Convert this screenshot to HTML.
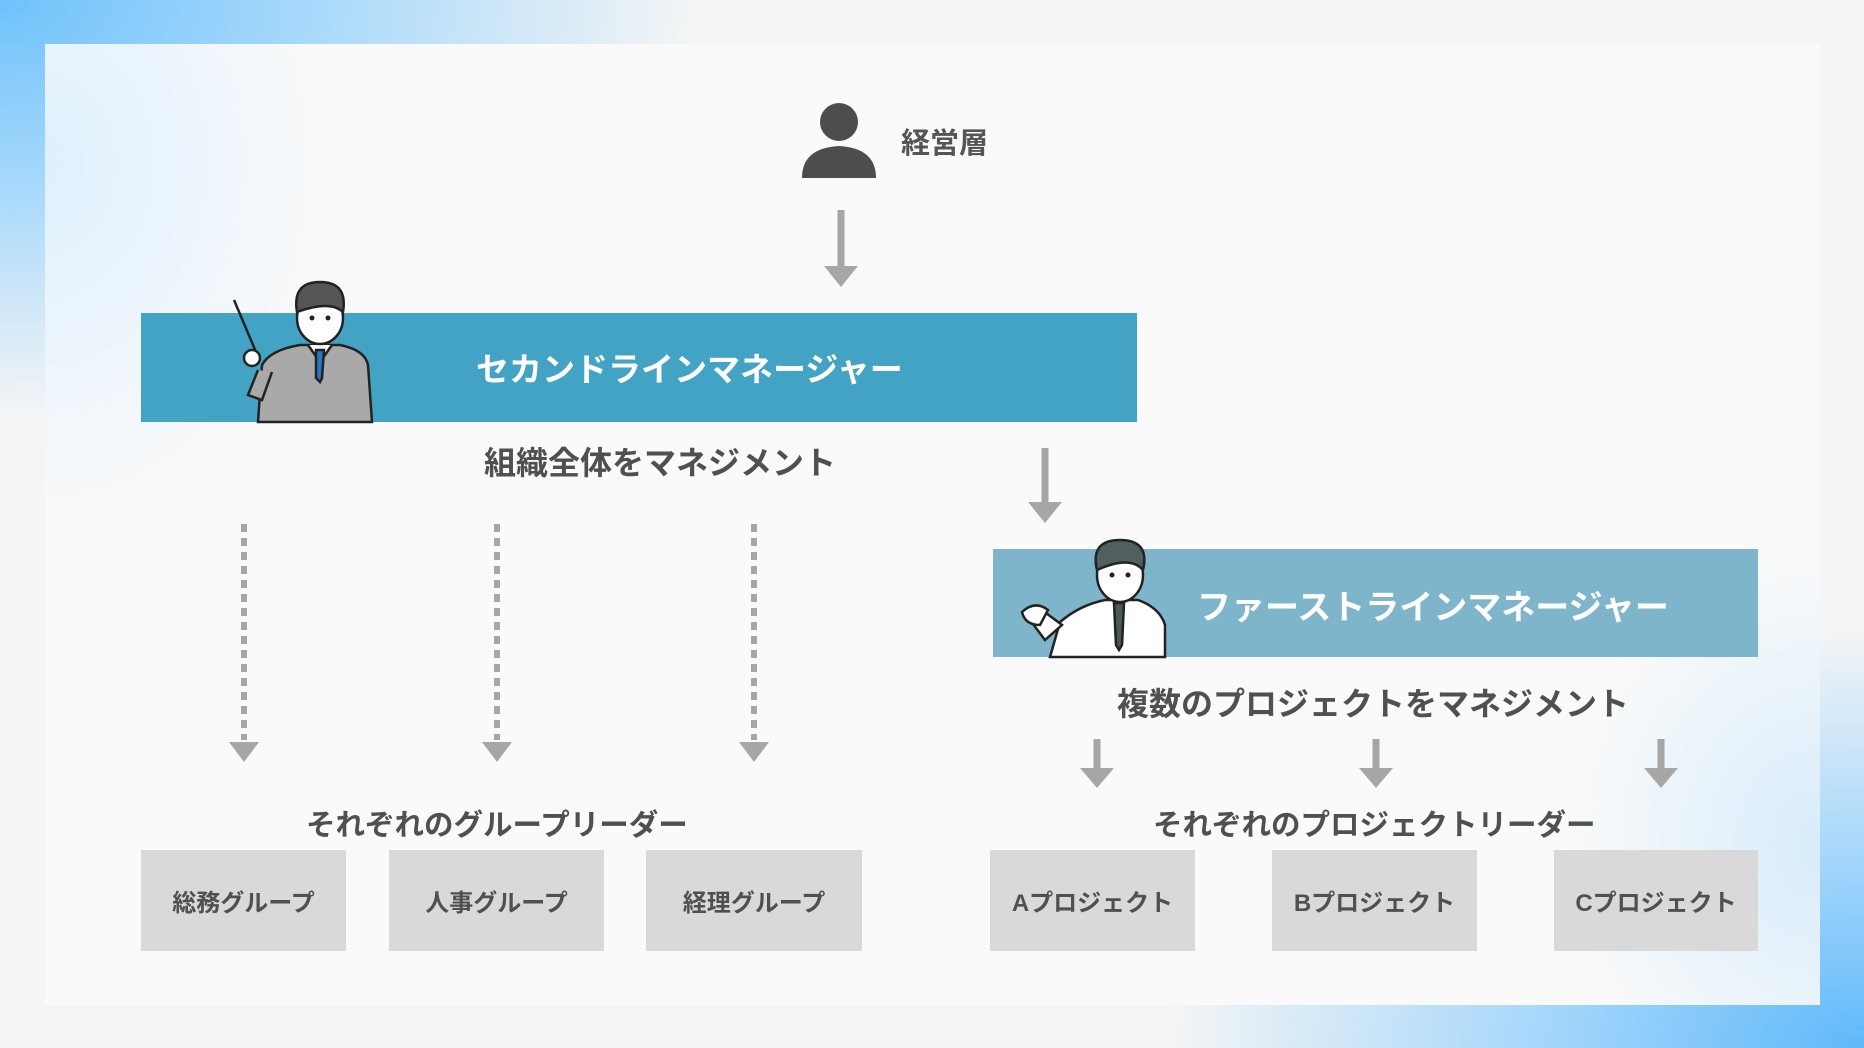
<!DOCTYPE html>
<html><head><meta charset="utf-8"><style>
body{margin:0;width:1864px;height:1048px;overflow:hidden;position:relative;font-family:"Liberation Sans","Noto Sans CJK JP",sans-serif;font-weight:bold;
background:
radial-gradient(ellipse 700px 420px at 0px 0px,#6fc2fb 0%,#a8d9fb 45%,rgba(245,245,245,0) 100%),
radial-gradient(ellipse 700px 420px at 1864px 1048px,#5fb9fa 0%,#a4d6fb 45%,rgba(245,245,245,0) 100%),
#f5f5f5;}
.panel{position:absolute;left:45px;top:44px;width:1775px;height:961px;
background:
radial-gradient(ellipse 300px 380px at 0px 120px,#dff0fd 0%,rgba(250,250,250,0) 100%),
radial-gradient(ellipse 260px 300px at 1775px 800px,#d8ecfb 0%,rgba(250,250,250,0) 100%),
#fafafa;}
.a{position:absolute;white-space:nowrap;color:#505050}
.box{position:absolute;top:850px;height:101px;background:#d9d9d9;display:flex;align-items:center;justify-content:center;font-size:24px;color:#505050}
</style></head><body>
<div class="panel"></div>
<svg width="1864" height="1048" style="position:absolute;left:0;top:0">
<circle cx="839" cy="122" r="19" fill="#4d4d4d"/>
<path d="M802 178 Q802 148 839 146 Q876 148 876 178 Z" fill="#4d4d4d"/>
<g stroke="#a6a6a6" stroke-width="7" fill="#a6a6a6">
<line x1="841" y1="210" x2="841" y2="268"/><polygon points="824,266 858,266 841,287" stroke="none"/>
<line x1="1045" y1="448" x2="1045" y2="504"/><polygon points="1028,502 1062,502 1045,523" stroke="none"/>
<line x1="1097" y1="739" x2="1097" y2="772"/><polygon points="1080,768 1114,768 1097,788" stroke="none"/>
<line x1="1376" y1="739" x2="1376" y2="772"/><polygon points="1359,768 1393,768 1376,788" stroke="none"/>
<line x1="1661" y1="739" x2="1661" y2="772"/><polygon points="1644,768 1678,768 1661,788" stroke="none"/>
</g>
<g stroke="#a6a6a6" stroke-width="6" stroke-dasharray="8,6" fill="none">
<line x1="244" y1="524" x2="244" y2="740"/><line x1="497" y1="524" x2="497" y2="740"/><line x1="754" y1="524" x2="754" y2="740"/>
</g>
<g fill="#a6a6a6"><polygon points="229,742 259,742 244,762"/><polygon points="482,742 512,742 497,762"/><polygon points="739,742 769,742 754,762"/></g>
<rect x="141" y="313" width="996" height="109" fill="#42a3c5"/>
<rect x="993" y="549" width="765" height="108" fill="#7fb5cb"/>
<g stroke="#222" stroke-width="2.5">
<line x1="234" y1="300" x2="256" y2="352"/>
<path d="M258 422 L262 365 Q270 350 300 345 L340 345 Q365 350 368 365 L372 422 Z" fill="#a9a9a9"/>
<path d="M258 370 L248 395 L262 400 L272 372" fill="#a9a9a9"/>
<circle cx="252" cy="358" r="8" fill="#fff"/>
<path d="M308 345 L320 362 L332 345" fill="#fff"/>
<path d="M316 350 L324 350 L322 378 L320 382 L316 378 Z" fill="#2a74c6"/>
<ellipse cx="320" cy="318" rx="23" ry="26" fill="#fff"/>
<path d="M297 312 Q292 282 320 282 Q348 282 343 312 Q330 300 297 312 Z" fill="#555"/>
</g>
<g fill="#222"><circle cx="312" cy="318" r="2.5"/><circle cx="328" cy="318" r="2.5"/></g>
<g stroke="#222" stroke-width="2.5">
<path d="M1050 657 L1060 622 Q1080 605 1105 600 L1138 600 Q1160 608 1165 625 L1165 657 Z" fill="#fff"/>
<path d="M1062 625 L1045 640 L1030 620 L1042 610 Z" fill="#fff"/>
<path d="M1022 612 Q1035 600 1048 610 L1040 625 Q1025 625 1022 612 Z" fill="#fff"/>
<path d="M1114 603 L1124 603 L1122 645 L1119 650 L1116 645 Z" fill="#4a5a58"/>
<ellipse cx="1120" cy="575" rx="23" ry="27" fill="#fff"/>
<path d="M1097 570 Q1090 540 1120 540 Q1150 540 1143 570 Q1130 555 1097 570 Z" fill="#4f605e"/>
</g>
<g fill="#222"><circle cx="1112" cy="575" r="2.5"/><circle cx="1128" cy="575" r="2.5"/></g>
</svg>
<div class="a" style="left:901px;top:120px;font-size:29px;color:#555">経営層</div>
<div class="a" style="left:476px;top:343px;font-size:33px;color:#fff">セカンドラインマネージャー</div>
<div class="a" style="left:484px;top:438px;font-size:32px">組織全体をマネジメント</div>
<div class="a" style="left:1197px;top:580px;font-size:34px;color:#fff">ファーストラインマネージャー</div>
<div class="a" style="left:1117px;top:679px;font-size:32px">複数のプロジェクトをマネジメント</div>
<div class="a" style="left:306px;top:802px;font-size:29.5px">それぞれのグループリーダー</div>
<div class="a" style="left:1153px;top:802px;font-size:29.5px">それぞれのプロジェクトリーダー</div>
<div class="box" style="left:141px;width:205px">総務グループ</div>
<div class="box" style="left:389px;width:215px">人事グループ</div>
<div class="box" style="left:646px;width:216px">経理グループ</div>
<div class="box" style="left:990px;width:205px">Aプロジェクト</div>
<div class="box" style="left:1272px;width:205px">Bプロジェクト</div>
<div class="box" style="left:1554px;width:204px">Cプロジェクト</div>
</body></html>
